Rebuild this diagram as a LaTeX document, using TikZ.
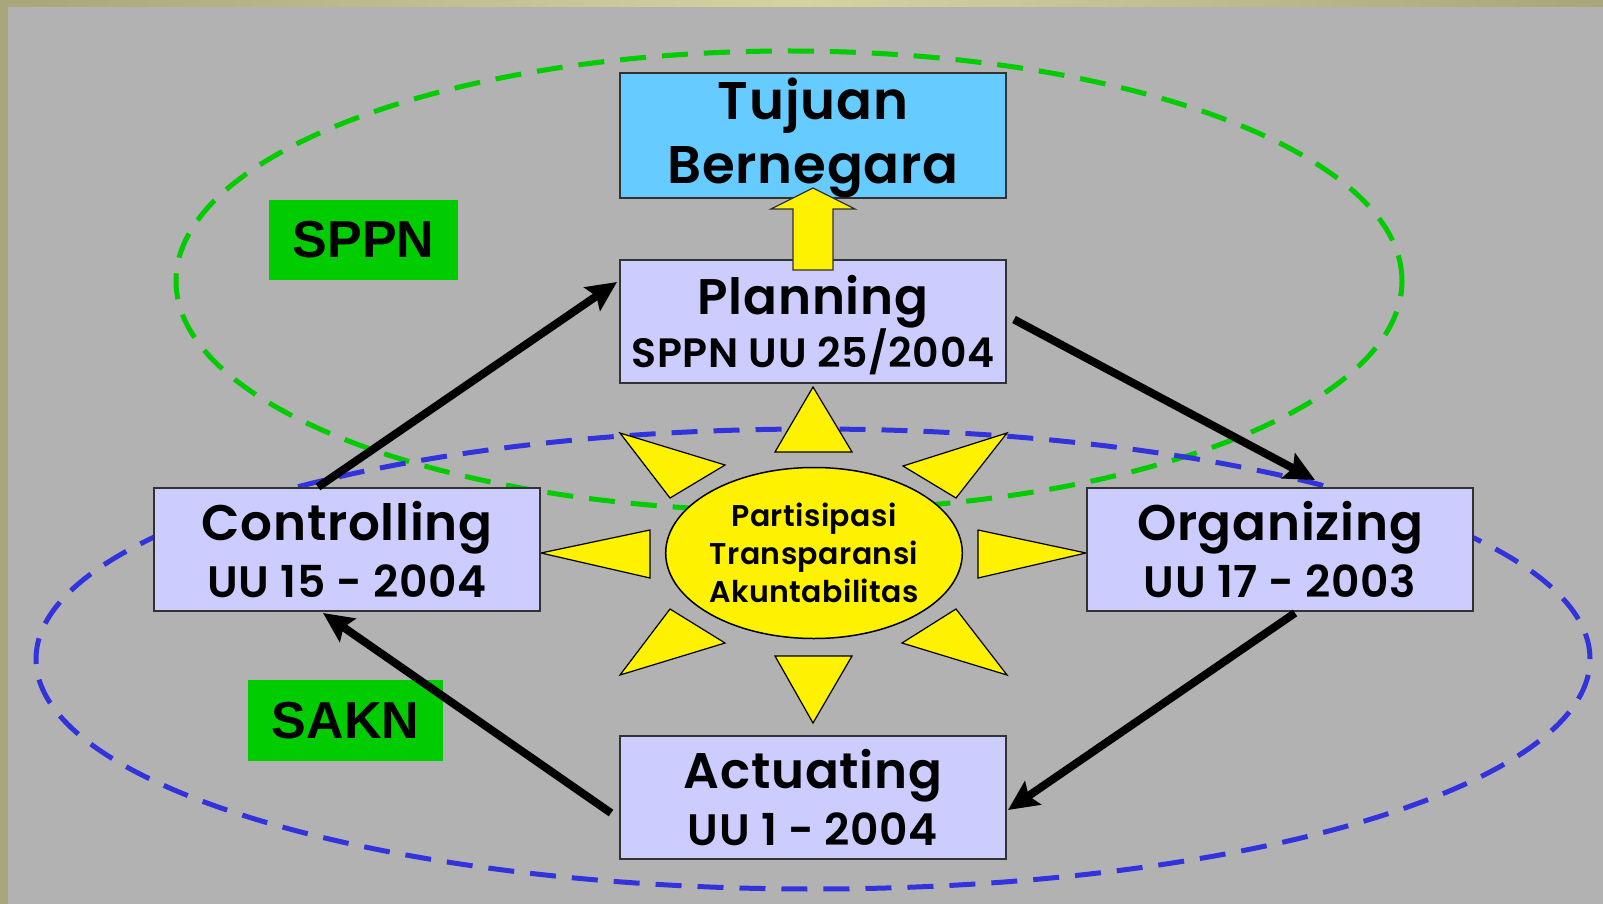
\documentclass[tikz,border=0pt]{standalone}
\usepackage{fontspec}
\newfontfamily\popfont{Poppins SemiBold}[LetterSpace=1.5]
\newfontfamily\arialfont{Liberation Sans}
\usetikzlibrary{arrows.meta,calc,shapes.geometric}
\definecolor{bggray}{RGB}{178,178,178}
\definecolor{frameD}{RGB}{168,166,122}
\definecolor{frameL}{RGB}{214,211,163}
\definecolor{boxfill}{RGB}{204,204,255}
\definecolor{tujfill}{RGB}{102,204,255}
\definecolor{labgreen}{RGB}{0,204,0}
\definecolor{dashgreen}{RGB}{0,204,0}
\definecolor{dashblue}{RGB}{51,51,221}
\definecolor{edge}{RGB}{50,50,50}
\tikzset{
  box/.style={draw=edge, line width=2pt, fill=boxfill, rectangle, minimum width=386pt, minimum height=123pt, inner sep=0pt, align=center, text=black},
  lab/.style={fill=labgreen, rectangle, inner sep=0pt, text=black, font=\arialfont\bfseries\fontsize{52}{60}\selectfont},
  ray/.style={fill=yellow, draw=black, line width=1.2pt, line join=miter},
  flow/.style={line width=8pt, draw=black, -{Stealth[length=30pt,width=28pt,inset=5pt]}},
  ell/.style={line width=5pt, dash pattern=on 26pt off 16pt}
}
\begin{document}
\begin{tikzpicture}[x=1pt,y=-1pt]
\useasboundingbox (0,0) rectangle (1603,904);
\fill[bggray] (0,0) rectangle (1603,904);
\shade[left color=frameD, right color=frameD, middle color=frameL] (0,0) rectangle (1603,7);
\fill[frameD] (0,0) rectangle (8,904);

% dashed ellipses
\draw[ell, draw=dashgreen] (789,281) ellipse [x radius=613pt, y radius=230pt];
\draw[ell, draw=dashblue] (813,659) ellipse [x radius=777pt, y radius=230pt];

% labels
\node[lab, minimum width=189pt, minimum height=80pt] (sppn) at (363.5,240) {SPPN};
\node[lab, minimum width=195pt, minimum height=81pt] (sakn) at (345.5,720.5) {SAKN};

% sun rays
\filldraw[ray] (813,387) -- (775,452) -- (852,452) -- cycle;
\filldraw[ray] (813,723) -- (775,656) -- (852,656) -- cycle;
\filldraw[ray] (541,553) -- (650,530) -- (650,578) -- cycle;
\filldraw[ray] (1086,553) -- (978,530) -- (978,578) -- cycle;
\filldraw[ray] (620,433) -- (725,465) -- (670,498) -- cycle;
\filldraw[ray] (1007,433) -- (903,466) -- (956,498) -- cycle;
\filldraw[ray] (620,675) -- (670,609) -- (725,643) -- cycle;
\filldraw[ray] (1007,675) -- (956,609) -- (902,643) -- cycle;

% sun
\node[ellipse, fill=yellow, draw=black, line width=1.5pt, minimum width=274pt, minimum height=171pt, inner sep=0pt, align=center, font=\popfont\fontsize{30}{38}\selectfont] (sun) at (814,553) {Partisipasi\\Transparansi\\Akuntabilitas};

% boxes
\node[box, fill=tujfill, font=\popfont\fontsize{53}{64}\selectfont] (tuj) at (813,135.5) {\rule{0pt}{46pt}Tujuan\\Bernegara};
\node[box, font=\popfont\fontsize{50}{51}\selectfont] (plan) at (813,321.5) {\rule{0pt}{46pt}Planning\\{\fontsize{41}{51}\selectfont SPPN UU 25/2004}};
\node[box, font=\popfont\fontsize{50}{57}\selectfont] (ctrl) at (347,549.5) {Controlling\\{\fontsize{44}{57}\selectfont UU 15 - 2004}};
\node[box, font=\popfont\fontsize{50}{57}\selectfont] (org) at (1280,549.5) {Organizing\\{\fontsize{44}{57}\selectfont UU 17 - 2003}};
\node[box, font=\popfont\fontsize{50}{57}\selectfont] (act) at (813,797.5) {Actuating\\{\fontsize{44}{57}\selectfont UU 1 - 2004}};

% yellow block arrow
\filldraw[fill=yellow, draw=edge, line width=1.2pt] (793,270) -- (833,270) -- (833,209) -- (855,209) -- (813,188) -- (771,209) -- (793,209) -- cycle;

% cycle arrows
\draw[flow] ($(ctrl.north west)+(165,0)$) -- ($(plan.north west)+(-2,23)$);
\draw[flow] ($(plan.east)+(7,-2)$) -- ($(org.north)+(35,-7)$);
\draw[flow] ($(org.south)+(15,1)$) -- ($(act.east)+(1,12.5)$);
\draw[flow] ($(act.west)+(-8,15.5)$) -- ($(ctrl.south)+(-24,1)$);
\end{tikzpicture}
\end{document}
